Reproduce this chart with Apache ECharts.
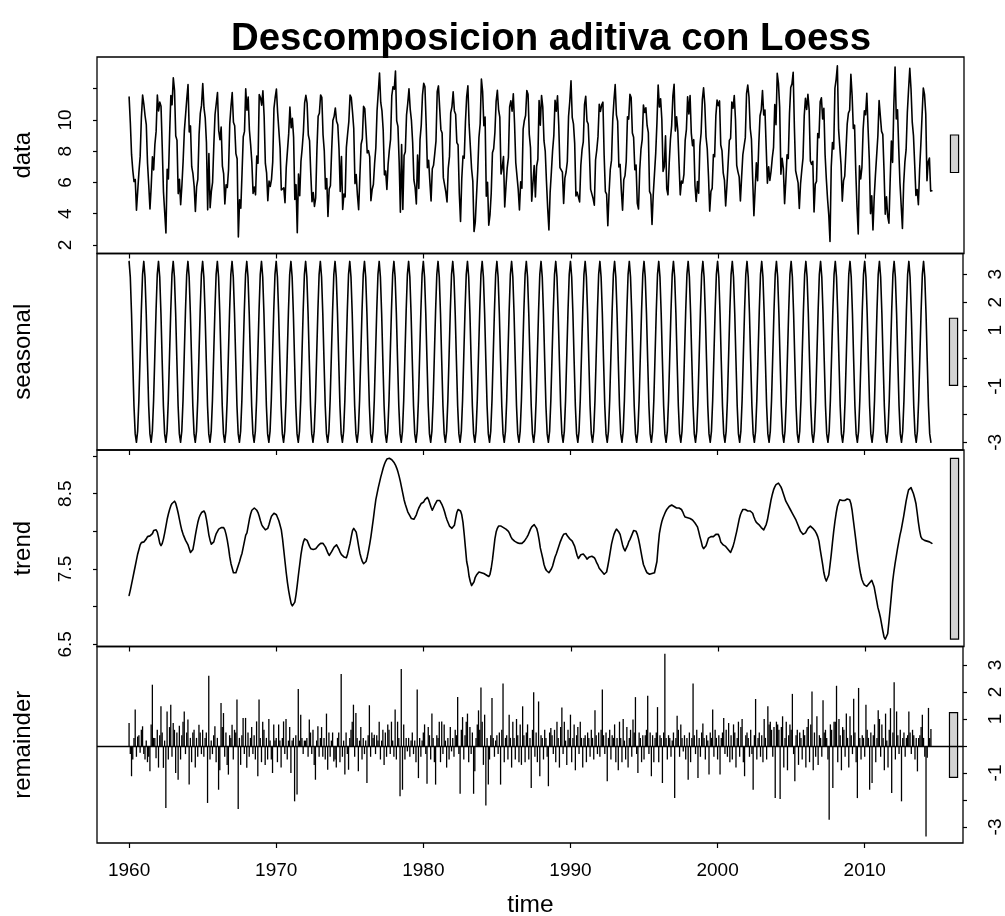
<!DOCTYPE html>
<html>
<head>
<meta charset="utf-8">
<script src="https://cdn.jsdelivr.net/npm/echarts@6/dist/echarts.min.js"></script>
<style>
  html, body { margin: 0; padding: 0; background: #ffffff; }
  #chart { width: 1005px; height: 916px; }
</style>
</head>
<body>
<div id="chart"></div>
<script>
// Monthly series starting January 1960 (frequency 12)
const startYear = 1960;
const frequency = 12;

// Seasonal component, one value per calendar month (Jan..Dec)
const seasonalByMonth = [3.46, 2.9, 1.6, -0.1, -1.7, -2.7, -3.0, -2.6, -1.5, 0.1, 1.7, 3.0];

// Trend component, one row per year (Jan..Dec)
const trendByYear = [
  [7.15, 7.22, 7.30, 7.38, 7.46, 7.54, 7.62, 7.70, 7.76, 7.82, 7.85, 7.86], // 1960
  [7.86, 7.87, 7.90, 7.93, 7.94, 7.94, 7.94, 7.97, 8.01, 8.03, 8.02, 7.99],
  [7.92, 7.84, 7.81, 7.84, 7.90, 7.98, 8.07, 8.16, 8.23, 8.29, 8.34, 8.37],
  [8.39, 8.40, 8.37, 8.31, 8.24, 8.16, 8.08, 8.01, 7.96, 7.92, 7.88, 7.86],
  [7.82, 7.77, 7.72, 7.71, 7.76, 7.85, 7.95, 8.04, 8.12, 8.18, 8.22, 8.25],
  [8.27, 8.27, 8.24, 8.16, 8.06, 7.95, 7.88, 7.83, 7.81, 7.86, 7.92, 7.97], // 1965
  [8.00, 8.03, 8.04, 8.05, 8.05, 8.05, 8.02, 7.96, 7.88, 7.78, 7.66, 7.57],
  [7.51, 7.45, 7.43, 7.45, 7.50, 7.55, 7.60, 7.66, 7.71, 7.79, 7.87, 7.95],
  [7.98, 8.07, 8.16, 8.23, 8.28, 8.30, 8.31, 8.31, 8.28, 8.25, 8.20, 8.14],
  [8.09, 8.06, 8.04, 8.02, 8.02, 8.04, 8.09, 8.15, 8.20, 8.22, 8.24, 8.24],
  [8.22, 8.18, 8.14, 8.08, 8.02, 7.90, 7.75, 7.60, 7.45, 7.32, 7.21, 7.12], // 1970
  [7.04, 7.01, 7.00, 7.06, 7.16, 7.29, 7.43, 7.56, 7.69, 7.79, 7.86, 7.90],
  [7.92, 7.88, 7.84, 7.80, 7.77, 7.77, 7.76, 7.77, 7.77, 7.79, 7.81, 7.83],
  [7.84, 7.85, 7.84, 7.82, 7.79, 7.75, 7.71, 7.68, 7.69, 7.73, 7.76, 7.79],
  [7.81, 7.82, 7.80, 7.76, 7.72, 7.69, 7.67, 7.66, 7.64, 7.65, 7.70, 7.77],
  [7.84, 7.93, 8.01, 8.04, 8.03, 7.99, 7.90, 7.80, 7.71, 7.65, 7.60, 7.57], // 1975
  [7.57, 7.60, 7.66, 7.74, 7.83, 7.93, 8.05, 8.17, 8.30, 8.42, 8.50, 8.58],
  [8.65, 8.72, 8.78, 8.84, 8.89, 8.93, 8.96, 8.97, 8.97, 8.96, 8.95, 8.93],
  [8.91, 8.88, 8.84, 8.79, 8.73, 8.66, 8.58, 8.50, 8.42, 8.36, 8.31, 8.26],
  [8.23, 8.20, 8.17, 8.16, 8.16, 8.18, 8.22, 8.27, 8.31, 8.34, 8.37, 8.39],
  [8.39, 8.42, 8.44, 8.45, 8.42, 8.37, 8.32, 8.28, 8.30, 8.35, 8.38, 8.41], // 1980
  [8.42, 8.41, 8.38, 8.35, 8.31, 8.26, 8.20, 8.15, 8.11, 8.07, 8.05, 8.04],
  [8.04, 8.08, 8.17, 8.25, 8.29, 8.30, 8.27, 8.22, 8.12, 7.96, 7.78, 7.60],
  [7.52, 7.40, 7.33, 7.28, 7.29, 7.33, 7.39, 7.42, 7.44, 7.46, 7.46, 7.45],
  [7.45, 7.44, 7.43, 7.42, 7.41, 7.40, 7.43, 7.51, 7.62, 7.76, 7.90, 7.99],
  [8.04, 8.07, 8.08, 8.07, 8.06, 8.05, 8.04, 8.03, 8.02, 8.00, 7.97, 7.93], // 1985
  [7.90, 7.88, 7.87, 7.86, 7.85, 7.84, 7.84, 7.84, 7.84, 7.85, 7.87, 7.89],
  [7.92, 7.95, 7.99, 8.03, 8.06, 8.08, 8.09, 8.08, 8.04, 7.98, 7.89, 7.78],
  [7.71, 7.64, 7.56, 7.51, 7.48, 7.46, 7.45, 7.47, 7.50, 7.54, 7.60, 7.66],
  [7.70, 7.75, 7.80, 7.85, 7.89, 7.93, 7.96, 7.98, 7.97, 7.94, 7.92, 7.90],
  [7.89, 7.87, 7.85, 7.80, 7.74, 7.68, 7.64, 7.66, 7.69, 7.70, 7.70, 7.69], // 1990
  [7.66, 7.63, 7.64, 7.66, 7.66, 7.67, 7.67, 7.65, 7.62, 7.58, 7.55, 7.51],
  [7.49, 7.47, 7.45, 7.43, 7.42, 7.46, 7.54, 7.63, 7.73, 7.83, 7.90, 7.96],
  [8.00, 8.03, 8.02, 7.99, 7.96, 7.89, 7.82, 7.77, 7.74, 7.76, 7.81, 7.86],
  [7.89, 7.93, 7.97, 8.01, 8.02, 8.00, 7.96, 7.90, 7.82, 7.73, 7.64, 7.56],
  [7.52, 7.48, 7.45, 7.43, 7.43, 7.43, 7.44, 7.44, 7.45, 7.46, 7.60, 7.80], // 1995
  [7.97, 8.06, 8.13, 8.18, 8.22, 8.26, 8.29, 8.31, 8.33, 8.35, 8.35, 8.34],
  [8.33, 8.32, 8.31, 8.31, 8.31, 8.31, 8.29, 8.26, 8.22, 8.19, 8.18, 8.18],
  [8.18, 8.17, 8.16, 8.15, 8.13, 8.11, 8.09, 8.06, 8.00, 7.93, 7.87, 7.80],
  [7.77, 7.78, 7.81, 7.86, 7.91, 7.93, 7.93, 7.92, 7.93, 7.95, 7.96, 7.97],
  [7.96, 7.92, 7.86, 7.84, 7.82, 7.81, 7.80, 7.78, 7.76, 7.74, 7.72, 7.74], // 2000
  [7.80, 7.86, 7.93, 8.00, 8.08, 8.16, 8.22, 8.26, 8.29, 8.30, 8.29, 8.28],
  [8.27, 8.27, 8.27, 8.27, 8.24, 8.19, 8.15, 8.12, 8.11, 8.09, 8.07, 8.05],
  [8.03, 8.02, 8.04, 8.09, 8.15, 8.24, 8.33, 8.42, 8.49, 8.55, 8.59, 8.62],
  [8.63, 8.64, 8.62, 8.59, 8.55, 8.50, 8.45, 8.40, 8.37, 8.34, 8.31, 8.28],
  [8.25, 8.22, 8.19, 8.16, 8.12, 8.08, 8.04, 8.00, 7.98, 7.96, 7.96, 7.98], // 2005
  [8.01, 8.04, 8.06, 8.07, 8.06, 8.04, 8.02, 8.00, 7.97, 7.93, 7.87, 7.76],
  [7.66, 7.56, 7.45, 7.38, 7.34, 7.34, 7.42, 7.55, 7.69, 7.85, 8.00, 8.13],
  [8.24, 8.33, 8.38, 8.42, 8.42, 8.41, 8.40, 8.41, 8.42, 8.43, 8.44, 8.42],
  [8.37, 8.28, 8.15, 8.02, 7.89, 7.75, 7.63, 7.52, 7.43, 7.36, 7.32, 7.29],
  [7.28, 7.27, 7.29, 7.31, 7.33, 7.35, 7.33, 7.26, 7.17, 7.08, 6.99, 6.93], // 2010
  [6.86, 6.77, 6.68, 6.60, 6.57, 6.58, 6.64, 6.80, 6.97, 7.15, 7.33, 7.46],
  [7.57, 7.67, 7.77, 7.86, 7.95, 8.02, 8.11, 8.20, 8.30, 8.40, 8.48, 8.55],
  [8.57, 8.58, 8.56, 8.50, 8.44, 8.37, 8.25, 8.12, 8.01, 7.93, 7.90, 7.89],
  [7.88, 7.88, 7.87, 7.86, 7.86, 7.85, 7.84]                                // 2014 (Jan..Jul)
];

// Remainder component, one row per year (Jan..Dec)
const remainderByYear = [
  [0.85, -0.3, -1.12, -0.5, 0.3, 1.35, -0.4, 0.35, 0.4, -0.25, 0.6, 0.73], // 1960
  [-0.3, -0.5, 0.2, -0.6, -0.4, -0.94, 0.8, 2.27, 0.3, 0.3, -0.45, 0.6],
  [-0.8, 0.4, 1.47, 0.5, -0.81, 0.2, -2.3, 1.28, -0.5, 0.7, 1.53, -0.4],
  [0.85, 0.6, -1.0, 0.5, -1.25, 0.75, -0.5, 0.4, 0.9, 1.28, -0.3, 0.5],
  [0.98, -1.43, 0.3, -0.6, 0.5, 0.6, -0.8, 0.3, -0.4, 0.79, 0.5, -0.3],
  [0.6, -0.4, 0.3, 0.5, -2.11, 2.6, -0.5, 0.2, -0.3, 0.4, 0.73, -0.6],      // 1965
  [0.3, -1.62, -0.9, 1.59, 0.7, 1.22, -0.4, 0.5, -0.7, -1.06, 0.4, 0.3],
  [0.79, -0.5, 0.6, 0.5, 1.72, -2.33, 0.3, -0.7, 0.4, 1.04, -0.3, 1.04],
  [-0.81, 0.5, -0.4, 0.3, 0.7, -0.3, 0.4, -0.5, 0.91, -1.12, 1.72, 0.3],
  [-0.6, 0.9, 0.6, -0.7, 0.3, -0.5, 1.0, 0.2, -0.5, -1.0, 0.8, 0.2],
  [0.3, -0.6, 0.8, 0.2, -0.8, 0.3, 0.91, -0.3, 1.0, -0.5, 0.2, 0.7],        // 1970
  [-1.0, 0.2, 0.3, -2.05, 0.4, -1.8, 2.11, 0.2, 1.16, 0.3, -0.3, 0.2],
  [0.2, 0.3, -0.4, 0.98, 0.5, -0.3, 0.6, -0.7, -1.25, 0.2, 0.73, -0.4],
  [0.3, 0.7, -0.4, 0.3, -0.5, 1.2, -0.88, 0.5, -0.4, 0.2, 0.5, -0.57],
  [-0.5, -0.8, 0.3, 0.5, -0.6, 2.67, -0.4, 0.2, -1.06, 0.5, -0.3, -0.88],
  [0.3, 0.6, 0.9, 1.53, -0.4, 1.22, 0.3, -0.94, 0.2, 0.7, -0.5, 0.3],       // 1975
  [-0.3, 0.2, -1.37, 0.4, 1.51, -0.4, 0.5, 0.3, 0.42, -0.3, 0.4, 0.2],
  [0.9, -0.5, 0.2, 0.6, -0.7, 0.5, -0.4, 0.8, 0.6, -0.3, 0.9, 0.2],
  [-0.4, 1.35, -0.5, 0.9, 0.3, -1.86, 2.85, -1.62, 0.8, -0.5, 0.3, -0.2],
  [0.3, -0.4, 0.2, 0.5, -0.3, 0.2, -0.6, 2.09, -1.19, 0.3, -0.4, 0.2],
  [0.5, 0.8, -0.3, -1.4, 0.7, 0.4, -0.5, 1.2, 0.3, -0.6, -1.43, 0.4],       // 1980
  [0.3, 0.9, -0.6, 0.91, -0.3, 0.8, 0.2, -0.8, 0.3, -0.5, 0.7, -0.2],
  [0.3, -0.4, 0.6, 0.4, 1.81, -0.3, -1.77, 0.6, 1.07, -0.5, 0.4, 0.9],
  [1.2, -0.6, 0.7, -0.3, 0.5, -1.77, -0.94, 0.3, 0.8, 1.32, 0.6, 2.17],
  [0.9, -0.7, 1.16, -2.2, 0.3, -1.43, -0.5, 0.4, 1.78, 0.3, -0.4, 0.2],
  [0.4, -0.3, 0.5, -1.43, 0.6, 2.31, -0.6, 0.3, 0.4, -0.5, 1.16, 0.3],      // 1985
  [-0.8, 0.9, 0.3, -0.5, 1.0, 0.4, -0.6, 0.8, -0.7, 1.47, 0.4, -0.6],
  [0.5, 0.8, -0.5, 0.3, -1.56, 0.6, 1.99, -0.4, 0.5, -0.6, 1.65, -1.12],
  [0.4, 0.3, -0.5, 0.6, 0.3, -0.4, -1.49, 0.5, 0.67, 0.4, -0.3, 0.6],
  [-0.6, 0.9, 0.3, -0.8, 0.7, 1.43, -0.3, 0.9, 0.2, -0.7, 0.6, 0.3],
  [1.16, -0.6, 0.3, 0.8, -0.9, 0.4, 0.7, -0.3, 0.9, 0.3, -0.8, 0.3],        // 1990
  [0.4, -0.6, 0.5, 0.3, -0.4, 0.6, 0.3, -0.5, 1.32, 0.4, -0.3, 0.5],
  [-0.4, 0.6, 2.09, 0.4, -0.3, 0.5, -1.31, 0.3, 0.6, -0.5, 0.4, 0.3],
  [0.8, -0.6, 0.3, -0.9, 0.9, 0.3, -0.6, 1.0, 0.2, -0.5, 0.7, -0.8],
  [0.3, 0.6, -0.4, 0.98, 0.5, 1.81, -0.3, -1.0, 0.5, 0.3, -0.6, 0.4],
  [-0.5, 0.4, 0.6, 1.86, -0.3, 0.5, -1.12, 0.4, -0.6, 0.3, 0.5, 1.44],      // 1995
  [-0.6, 0.4, 0.3, -1.37, 0.5, 3.42, 0.3, -0.5, 0.4, 0.3, -0.4, 0.2],
  [0.5, -1.93, 0.3, 1.12, 0.6, -0.4, 0.8, 0.3, -0.2, 0.4, -0.5, 0.3],
  [-1.25, 0.5, -0.6, 0.3, 2.31, 0.4, -0.3, 0.6, -1.19, 0.3, -0.4, 0.5],
  [0.83, 0.3, -0.5, 0.4, 0.2, -1.06, 0.5, 0.3, 1.35, -0.4, 0.6, 0.3],
  [-0.5, 0.4, -1.06, 0.3, 0.5, 1.04, -0.3, 0.6, -0.4, 0.85, -0.6, 0.4],     // 2000
  [-0.5, 0.8, 0.5, -0.8, 0.3, 0.9, -0.4, 0.7, 1.0, -0.6, -1.12, 0.4],
  [0.5, 0.3, -0.4, 0.6, -0.3, -1.62, 0.4, 1.74, -0.5, 0.3, 0.5, -0.4],
  [0.4, -0.6, 1.0, 0.3, -0.5, 1.47, 0.8, 0.9, 0.6, -0.4, 0.7, -1.93],
  [0.9, 0.8, 0.6, -1.96, 0.7, 1.1, -0.8, 0.3, 0.9, -0.9, 0.4, 0.8],
  [0.6, 1.93, -0.3, -1.31, 0.4, 0.6, -0.7, 0.5, 0.3, -0.5, 0.6, 0.4],       // 2005
  [-0.8, 0.7, 1.0, -0.6, 0.8, 2.02, -0.9, 0.5, -0.4, 1.1, -0.7, 0.4],
  [0.3, -0.4, 1.69, 0.5, 0.6, 0.3, -0.5, -2.73, 0.8, 0.6, -1.56, 0.9],
  [0.9, 2.23, -0.6, 1.0, 0.4, -0.9, 0.7, 0.6, -0.4, 1.2, 0.3, -0.8],
  [1.1, 0.4, -0.3, 1.75, 0.5, -0.6, -1.93, 2.15, 0.3, -0.5, 0.4, 0.3],
  [-0.4, 1.53, 0.6, 0.3, -1.62, 0.5, -1.37, 0.4, 0.8, -0.6, 0.3, 1.32],     // 2010
  [1.0, -0.4, 0.8, 0.3, -0.9, 1.2, 0.2, -0.8, 0.6, 1.4, -1.74, 0.5],
  [2.36, -0.5, 1.28, 0.4, -0.3, 0.6, -2.05, 0.3, 0.5, -0.4, 0.3, 0.4],
  [1.28, 0.5, -0.3, 0.6, 0.4, -0.5, 0.3, -0.94, 0.3, 0.4, 0.7, 1.16],
  [0.3, -0.4, -3.35, -0.44, 1.41, 0.3, 0.63]                                // 2014 (Jan..Jul)
];

// Tick positions and the labels printed on each axis
const timeTicks = [1960, 1970, 1980, 1990, 2000, 2010];
const dataTicks = [2, 4, 6, 8, 10, 12];
const dataLabels = [2, 4, 6, 8, 10];
const seasonalTicks = [-3, -2, -1, 0, 1, 2, 3];
const seasonalLabels = [-3, -1, 1, 2, 3];
const trendTicks = [6.5, 7, 7.5, 8, 8.5, 9];
const trendLabels = [6.5, 7.5, 8.5];
const remainderTicks = [-3, -2, -1, 0, 1, 2, 3];
const remainderLabels = [-3, -1, 1, 2, 3];

// Panel names and vertical limits
const panelNames = ['data', 'seasonal', 'trend', 'remainder'];
const yLimits = [[1.456, 14.03], [-3.275, 3.743], [6.471, 9.08], [-3.593, 3.685]];

// ---- build the component series ----
const trend = trendByYear.flat();
const remainder = remainderByYear.flat();
const n = trend.length;
const time = [];
const seasonal = [];
const data = [];
for (let i = 0; i < n; i++) {
  time.push(startYear + i / frequency);
  seasonal.push(seasonalByMonth[i % frequency]);
  data.push(+(seasonal[i] + trend[i] + remainder[i]).toFixed(3));
}
const components = [data, seasonal, trend, remainder];

// x limits padded by 4% of the time span on each side
const tSpan = time[n - 1] - time[0];
const xMin = time[0] - 0.04 * tSpan;
const xMax = time[n - 1] + 0.04 * tSpan;

// range bars: same height in data units on every panel (the smallest component range)
const ranges = components.map(c => [Math.min(...c), Math.max(...c)]);
const barHeight = Math.min(...ranges.map(r => r[1] - r[0]));
const dx = (xMax - xMin) / 64;

const FONT = 'Liberation Sans, Arial, Helvetica, sans-serif';
const BLACK = '#000000';

const gridTop = 57, gridH = 196.5, gridLeft = 97, gridRight = 41;
const grids = [0, 1, 2, 3].map(i => ({
  left: gridLeft, right: gridRight, top: gridTop + i * gridH, height: gridH,
  show: true, borderColor: BLACK, borderWidth: 1.3, backgroundColor: 'transparent'
}));

const xAxes = [0, 1, 2, 3].map(i => ({
  type: 'value', gridIndex: i, min: xMin, max: xMax,
  axisLine: { show: false, onZero: false },
  splitLine: { show: false },
  axisTick: { show: true, customValues: timeTicks, length: 5, lineStyle: { color: BLACK, width: 1.2 } },
  axisLabel: {
    show: i === 3, customValues: timeTicks, color: BLACK, fontFamily: FONT,
    fontSize: 19, margin: 18, formatter: v => String(v)
  }
}));

const tickSets = [dataTicks, seasonalTicks, trendTicks, remainderTicks];
const labelSets = [dataLabels, seasonalLabels, trendLabels, remainderLabels];
const yAxes = [0, 1, 2, 3].map(i => ({
  type: 'value', gridIndex: i, position: i % 2 === 0 ? 'left' : 'right',
  min: yLimits[i][0], max: yLimits[i][1],
  axisLine: { show: false, onZero: false },
  splitLine: { show: false },
  axisTick: { show: true, customValues: tickSets[i], length: 4, lineStyle: { color: BLACK, width: 1.2 } },
  axisLabel: {
    customValues: labelSets[i], rotate: 90, color: BLACK, fontFamily: FONT,
    fontSize: 19, margin: i % 2 === 0 ? 22 : 23,
    formatter: v => String(v)
  }
}));

const lineStyle = { color: BLACK, width: 1.6, join: 'round', cap: 'round' };
const series = [];
[0, 1, 2].forEach(i => {
  series.push({
    type: 'line', xAxisIndex: i, yAxisIndex: i, showSymbol: false, symbol: 'none',
    data: time.map((t, k) => [t, components[i][k]]),
    lineStyle, silent: true
  });
});

// remainder drawn as vertical strokes from zero
series.push({
  type: 'custom', xAxisIndex: 3, yAxisIndex: 3, silent: true,
  data: time.map((t, k) => [t, remainder[k]]),
  encode: { x: 0, y: 1 },
  renderItem: (params, api) => {
    const p0 = api.coord([api.value(0), 0]);
    const p1 = api.coord([api.value(0), api.value(1)]);
    return {
      type: 'line',
      shape: { x1: p0[0], y1: p0[1], x2: p1[0], y2: p1[1] },
      style: { stroke: BLACK, lineWidth: 1.3 }
    };
  },
  markLine: {
    silent: true, symbol: 'none', label: { show: false },
    lineStyle: { color: BLACK, width: 1.3, type: 'solid' },
    data: [{ yAxis: 0 }]
  }
});

// grey range bars on the right of each panel
[0, 1, 2, 3].forEach(i => {
  const mid = (ranges[i][0] + ranges[i][1]) / 2;
  series.push({
    type: 'custom', xAxisIndex: i, yAxisIndex: i, silent: true, clip: false,
    data: [[xMax - dx, xMax - 0.4 * dx, mid - barHeight / 2, mid + barHeight / 2]],
    encode: { x: [0, 1], y: [2, 3] },
    renderItem: (params, api) => {
      const a = api.coord([api.value(0), api.value(3)]);
      const b = api.coord([api.value(1), api.value(2)]);
      return {
        type: 'rect',
        shape: { x: a[0], y: a[1], width: b[0] - a[0], height: b[1] - a[1] },
        style: { fill: '#d3d3d3', stroke: BLACK, lineWidth: 1.2 }
      };
    }
  });
});

const centerX = gridLeft + (1005 - gridLeft - gridRight) / 2;
const graphics = panelNames.map((name, i) => ({
  type: 'text', x: 23.7, y: gridTop + (i + 0.5) * gridH, rotation: Math.PI / 2,
  style: { text: name, font: '24px ' + FONT, fill: BLACK, align: 'center', verticalAlign: 'middle' }
}));
graphics.push({
  type: 'text', x: centerX, y: 905.5,
  style: { text: 'time', font: '24.5px ' + FONT, fill: BLACK, align: 'center', verticalAlign: 'middle' }
});
graphics.push({
  type: 'text', x: 551, y: 39,
  style: { text: 'Descomposicion aditiva con Loess', font: 'bold 38.4px ' + FONT, fill: BLACK, align: 'center', verticalAlign: 'middle' }
});

const chart = echarts.init(document.getElementById('chart'), null, { renderer: 'canvas' });
chart.setOption({
  animation: false,
  backgroundColor: '#ffffff',
  grid: grids,
  xAxis: xAxes,
  yAxis: yAxes,
  series,
  graphic: graphics
});
</script>
</body>
</html>
